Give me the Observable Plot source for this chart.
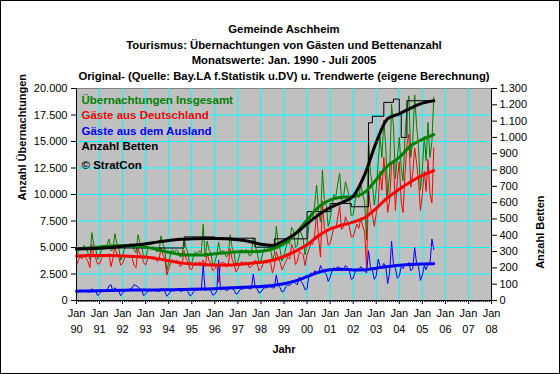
<!DOCTYPE html>
<html><head><meta charset="utf-8">
<script src="https://cdn.jsdelivr.net/npm/d3@7"></script>
<script src="https://cdn.jsdelivr.net/npm/@observablehq/plot@0.6"></script>
<style>
body{margin:0;background:#fff}
#chart svg{display:block}
</style>
</head><body><div id="chart"></div>
<script>
// ---------- text ----------
const titleLines = [
  "Gemeinde Aschheim",
  "Tourismus: Übernachtungen von Gästen und Bettenanzahl",
  "Monatswerte: Jan. 1990 - Juli 2005",
  "Original- (Quelle: Bay.LA f.Statistik u.DV) u. Trendwerte (eigene Berechnung)"
];
const legendLabels = ["Übernachtungen Insgesamt","Gäste aus Deutschland","Gäste aus dem Ausland","Anzahl Betten","© StratCon"];
const legendColors = ["#008000","#ff0000","#0000ff","#000000","#000000"];
const yLeftTitle = "Anzahl Übernachtungen";
const yRightTitle = "Anzahl Betten";
const xTitle = "Jahr";

// ---------- ticks ----------
const yearTickLabels = ["90","91","92","93","94","95","96","97","98","99","00","01","02","03","04","05","06","07","08"];
const leftTicks = [0,2500,5000,7500,10000,12500,15000,17500,20000];
const rightTicks = [0,100,200,300,400,500,600,700,800,900,1000,1100,1200,1300];

// ---------- monthly data, Jan 1990 - Jul 2005 ----------
const total = [
 4000,4700,5000,4800,5200,4900,4500,3900,6400,5300,4900,3900,
 4100,4800,5100,5000,5300,5800,4700,4800,6300,5400,5000,3800,
 4200,4900,5300,5100,5400,5200,4800,4500,6200,5500,5100,4000,
 4000,4800,5000,4900,5100,4900,4600,4700,6100,5300,4800,2800,
 3600,4400,4800,4500,4800,4600,4100,4200,5800,5000,4500,3400,
 3500,4300,4600,4400,4700,4500,7200,4100,5600,4800,4400,3300,
 3600,4300,5500,4500,4700,4600,4100,4300,6200,5000,4500,3300,
 3700,4400,4800,4600,4800,4700,4200,4300,5900,5100,4600,3500,
 3800,4500,4900,4700,5000,4900,3800,4400,7000,5400,4800,3700,
 4200,5000,5600,5300,6900,6600,5000,5200,6800,6300,5800,4300,
 5400,7200,8000,7800,9000,10900,8500,7400,12300,9500,9000,7000,
 7600,9000,10000,9800,11000,12000,9500,9800,11200,10500,9800,8000,
 8100,9400,10200,9700,11000,10000,9300,5700,15300,12000,11000,9000,
 10500,13000,15500,13500,17000,14500,9900,12000,18500,16500,11500,13500,
 15400,12500,11300,15500,18000,19300,13500,15000,19400,16500,14500,10400,
 12500,15500,13200,16800,13500,15000,19200
];
const domestic = [
 3300,3850,4100,3950,4250,4000,3700,3100,5300,4350,4000,3450,
 3450,3950,4200,4100,4300,4400,3200,3950,5100,4400,4100,3350,
 3500,4000,4300,4100,4300,4000,3300,3100,4900,4400,4150,3550,
 3350,3950,4050,4000,4100,3950,3700,3850,5000,4300,3950,2400,
 3000,3550,3850,3600,3800,3650,3200,3350,4700,4000,3650,2950,
 2950,3450,3600,3450,3650,3500,3800,3200,4500,3750,3500,2800,
 3000,3400,1700,3500,3600,3550,3150,3300,4900,3900,3500,2700,
 3000,3400,3700,3500,3600,3500,3100,3200,3400,3800,3500,2800,
 3000,3400,3700,3500,3700,3600,2600,3200,4600,4000,3600,2900,
 3300,3700,4100,3900,5300,4800,3400,3700,4600,4500,4300,3300,
 4300,4800,5400,5300,6200,8200,6000,4100,9400,6800,6500,5200,
 5400,6200,6900,6800,7800,8900,6700,6900,7900,7400,7000,6000,
 6000,6700,7200,6800,7800,7000,6500,3100,10600,8800,8100,7000,
 8200,9100,12200,10400,13500,11300,8300,9400,12900,13100,8500,11400,
 13100,9300,8300,12000,14700,15700,10700,12000,14400,13000,11300,8500,
 10100,12200,10300,13300,10100,9200,14400
];
const foreign = [
 700,850,900,850,950,900,800,800,1100,950,900,450,
 650,850,900,900,1000,1400,1500,850,1200,1000,900,450,
 700,900,1000,1000,1100,1200,1500,1400,1300,1100,950,450,
 650,850,950,900,1000,950,900,850,1100,1000,850,400,
 600,850,950,900,1000,950,900,850,1100,1000,850,450,
 550,850,1000,950,1050,1000,3400,900,1100,1050,900,500,
 600,900,3800,1000,1100,1050,950,1000,1300,1100,1000,600,
 700,1000,1100,1100,1200,1200,1100,1100,2500,1300,1100,700,
 800,1100,1200,1200,1300,1300,1200,1200,2400,1400,1200,800,
 900,1300,1500,1400,1600,1800,1600,1500,2200,1800,1500,1000,
 1100,2400,2600,2500,2800,2700,2500,3300,2900,2700,2500,1800,
 2200,2800,3100,3000,3200,3100,2800,2900,3300,3100,2800,2000,
 2100,2700,3000,2900,3200,3000,2800,2600,4700,3200,2900,2000,
 2300,3900,3300,3100,3500,3200,1600,2600,5600,3400,3000,2100,
 2300,3200,3000,3500,3300,3600,2800,3000,5000,3500,3200,1900,
 2400,3300,2900,3500,3400,5800,4800
];

// beds: change points (month string) and values
const bedsDates = ["1990-01","1991-03","1994-09","1996-01","1997-10","1998-08","2000-01","2001-01","2001-12","2002-09","2002-11","2003-05","2003-10","2004-01","2004-02","2004-05","2005-07"];
const bedsValues = [318,322,390,382,327,378,545,595,575,1090,1130,1215,1235,1150,1000,1225,1230];

// trend values at Jan and Jul of each year 1990-2005
const trendTotal = [4800,4950,5050,5150,5200,5150,5050,4800,4550,4350,4300,4300,4400,4500,4600,4600,4650,4850,5350,6300,7600,8800,9500,9750,9800,10200,11400,12700,13500,14600,15200,15650];
const trendDomestic = [4200,4250,4250,4250,4200,4150,4100,3950,3750,3550,3450,3400,3350,3350,3400,3500,3600,3800,4150,4650,5250,6100,6750,7100,7400,7800,8700,9700,10500,11200,11800,12250];
const trendForeign = [880,900,920,940,960,980,990,1000,1010,1030,1050,1080,1120,1180,1230,1280,1330,1420,1580,1850,2250,2650,2900,2950,2880,2900,3050,3200,3330,3400,3440,3460];
const trendBeds = [318,318,320,325,332,340,348,358,368,375,378,380,380,378,372,362,345,338,368,410,470,525,570,600,640,770,970,1115,1145,1180,1210,1225];

// ---------- helpers ----------
const monthDate = i => new Date(Date.UTC(1990, i, 1));
const parseMonth = s => { const [y,m] = s.split("-").map(Number); return new Date(Date.UTC(y, m-1, 1)); };
const trendDate = k => new Date(Date.UTC(1990 + Math.floor(k/2), (k%2)*6, 1));
const yearDates = yearTickLabels.map((_, i) => new Date(Date.UTC(1990 + i, 0, 1)));
const allMonths = d3.range(0, 18*12 + 1).map(monthDate);
const bedScale = 20000 / 1300;
const de = d3.formatLocale({decimal: ",", thousands: ".", grouping: [3], currency: ["", " €"]});
const fmt = de.format(",");

const font = "'Liberation Sans', Arial, sans-serif";
const W = 560, H = 374, ML = 76, MR = 69, MT = 88, MB = 74;
const frameTop = MT, frameMidY = MT + (H - MT - MB) / 2;

const marks = [
  Plot.frame({fill: "#c0c0c0", stroke: "#808080"}),
  Plot.gridY({ticks: leftTicks.slice(1, -1), stroke: "#00ffff", strokeOpacity: 1, strokeWidth: 1}),
  Plot.gridX({ticks: yearDates.slice(1, -1), stroke: "#00ffff", strokeOpacity: 1, strokeWidth: 1}),
  // raw series
  Plot.line(total, {x: (d, i) => monthDate(i), y: d => d, stroke: legendColors[0], strokeWidth: 1}),
  Plot.line(domestic, {x: (d, i) => monthDate(i), y: d => d, stroke: legendColors[1], strokeWidth: 1}),
  Plot.line(foreign, {x: (d, i) => monthDate(i), y: d => d, stroke: legendColors[2], strokeWidth: 1}),
  Plot.line(bedsValues, {x: (d, i) => parseMonth(bedsDates[i]), y: d => d * bedScale, stroke: "#000", strokeWidth: 1, curve: "step-after"}),
  // trends
  Plot.line(trendTotal, {x: (d, k) => trendDate(k), y: d => d, stroke: legendColors[0], strokeWidth: 3, curve: "monotone-x"}),
  Plot.line(trendDomestic, {x: (d, k) => trendDate(k), y: d => d, stroke: legendColors[1], strokeWidth: 3, curve: "monotone-x"}),
  Plot.line(trendForeign, {x: (d, k) => trendDate(k), y: d => d, stroke: legendColors[2], strokeWidth: 3, curve: "monotone-x"}),
  Plot.line(trendBeds, {x: (d, k) => trendDate(k), y: d => d * bedScale, stroke: "#000", strokeWidth: 3, curve: "monotone-x"}),
  // axes lines
  Plot.ruleY([0], {stroke: "#000"}),
  Plot.ruleX([yearDates[0], yearDates[yearDates.length - 1]], {stroke: "#000"}),
  // axes
  Plot.axisY({ticks: leftTicks, tickFormat: fmt, tickSize: 5, tickPadding: 4, label: null, fontSize: 11}),
  Plot.axisY({anchor: "right", ticks: rightTicks.map(v => v * bedScale), tickFormat: v => fmt(Math.round(v / bedScale)), tickSize: 5, tickPadding: 3, label: null, fontSize: 11}),
  Plot.axisX({ticks: allMonths, tickSize: 2, tickFormat: () => "", label: null}),
  Plot.axisX({ticks: yearDates, tickSize: 4, tickPadding: 5, tickFormat: () => "Jan", label: null, fontSize: 11}),
  Plot.axisX({ticks: yearDates, tickSize: 0, tickPadding: 25, tickFormat: (d, i) => yearTickLabels[i], label: null, fontSize: 11}),
  // axis titles
  Plot.text([yLeftTitle], {frameAnchor: "left", dx: 22 - ML, dy: 200 - frameMidY, rotate: -90, fontWeight: "bold", fontSize: 11}),
  Plot.text([yRightTitle], {frameAnchor: "right", dx: 540 - (W - MR), dy: 195 - frameMidY, rotate: -90, fontWeight: "bold", fontSize: 11}),
  Plot.text([xTitle], {frameAnchor: "bottom", dy: 352 - (H - MB), fontWeight: "bold", fontSize: 11}),
];
// titles
const titleY = [24, 40, 55.5, 71];
titleLines.forEach((t, i) => marks.push(Plot.text([t], {frameAnchor: "top", dy: titleY[i] - frameTop, fontWeight: "bold", fontSize: 11.3})));
// legend texts inside plot
const legendY = [95, 110.5, 126, 141.5, 160];
legendLabels.forEach((t, i) => marks.push(Plot.text([t], {frameAnchor: "top-left", dx: 5, dy: legendY[i] - frameTop, textAnchor: "start", fill: legendColors[i], fontWeight: "bold", fontSize: 11.5})));

const chart = Plot.plot({
  width: W, height: H,
  marginLeft: ML, marginRight: MR, marginTop: MT, marginBottom: MB,
  style: {fontFamily: font, fontSize: "11px", background: "#fff", overflow: "visible", color: "#000"},
  x: {type: "utc", domain: [yearDates[0], yearDates[yearDates.length - 1]], axis: null},
  y: {domain: [0, 20000], axis: null},
  marks
});
d3.select(chart).append("rect").attr("x", 0.5).attr("y", 0.5).attr("width", W - 1).attr("height", H - 1)
  .attr("fill", "none").attr("stroke", "#000");
document.getElementById("chart").appendChild(chart);
</script>
</body></html>
